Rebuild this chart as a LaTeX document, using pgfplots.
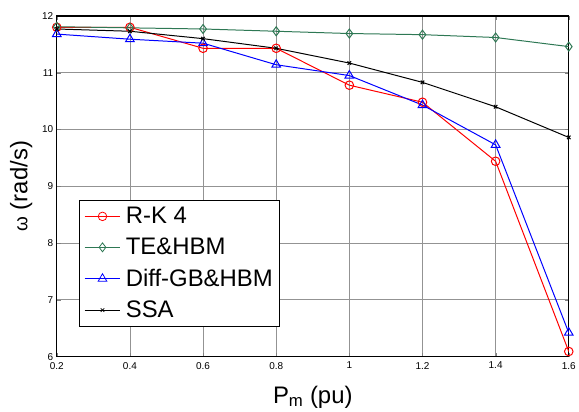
\documentclass[border=0pt]{standalone}
\usepackage{pgfplots}
\pgfplotsset{compat=1.18}
\usepackage{fontspec}
\setmainfont{Liberation Sans}
\definecolor{tegreen}{rgb}{0.18,0.47,0.33}
\begin{document}
\begin{tikzpicture}
\begin{axis}[
  name=ax,
  scale only axis,
  width=514pt, height=342pt,
  xmin=0.2, xmax=1.6, ymin=6, ymax=12,
  xtick={0.2,0.4,...,1.6},
  xticklabels={0.2,0.4,0.6,0.8,1,1.2,1.4,1.6},
  ytick={6,7,...,12},
  /pgf/number format/assume math mode=true,
  tick label style={font=\fontsize{10}{12}\selectfont},
  xticklabel style={yshift=-2pt},
  tick align=inside,
  major tick length=4pt,
  xtick pos=both, ytick pos=both,
  xticklabel pos=bottom, yticklabel pos=left,
  grid=major,
  major grid style={gray!85, line width=0.8pt},
  axis line style={line width=1.2pt},
  xlabel={P\textsubscript{m} (pu)},
  ylabel={{\fontsize{19}{20}\selectfont ω} (rad/s)},
  label style={font=\fontsize{24}{28}\selectfont},
  xlabel style={yshift=-10pt},
  ylabel style={yshift=3pt},
  legend style={at={(0.043,0.088)}, anchor=south west,
    font=\fontsize{24}{27}\selectfont, draw=black, line width=0.8pt,
    inner xsep=5pt, inner ysep=5pt, row sep=9pt,
    /tikz/every odd column/.append style={column sep=3pt}},
  legend cell align=left,
  legend image code/.code={\draw[mark repeat=2,mark phase=2,line width=0.8pt] plot coordinates {(0pt,0pt) (18pt,0pt) (36pt,0pt)};},
  every axis plot/.append style={line width=1pt},
]
\addplot[red, mark=o, mark size=4.3pt, mark options={solid}] coordinates {
(0.2,11.80) (0.4,11.80) (0.6,11.43) (0.8,11.43) (1.0,10.78) (1.2,10.48) (1.4,9.44) (1.6,6.09)};
\addlegendentry{R-K 4}
\addplot[tegreen, mark=diamond, mark size=4.5pt, mark options={solid}] coordinates {
(0.2,11.81) (0.4,11.79) (0.6,11.77) (0.8,11.73) (1.0,11.69) (1.2,11.67) (1.4,11.62) (1.6,11.46)};
\addlegendentry{TE\&HBM}
\addplot[blue, mark=triangle, mark size=5pt, mark options={solid}] coordinates {
(0.2,11.68) (0.4,11.59) (0.6,11.52) (0.8,11.14) (1.0,10.95) (1.2,10.43) (1.4,9.73) (1.6,6.42)};
\addlegendentry{Diff-GB\&HBM}
\addplot[black, mark=x, mark size=2.5pt, mark options={solid}] coordinates {
(0.2,11.77) (0.4,11.73) (0.6,11.60) (0.8,11.43) (1.0,11.17) (1.2,10.83) (1.4,10.40) (1.6,9.86)};
\addlegendentry{SSA}
\end{axis}
\path ([shift={(-57pt,-55pt)}]ax.south west) rectangle ([shift={(8pt,16pt)}]ax.north east);
\end{tikzpicture}
\end{document}
